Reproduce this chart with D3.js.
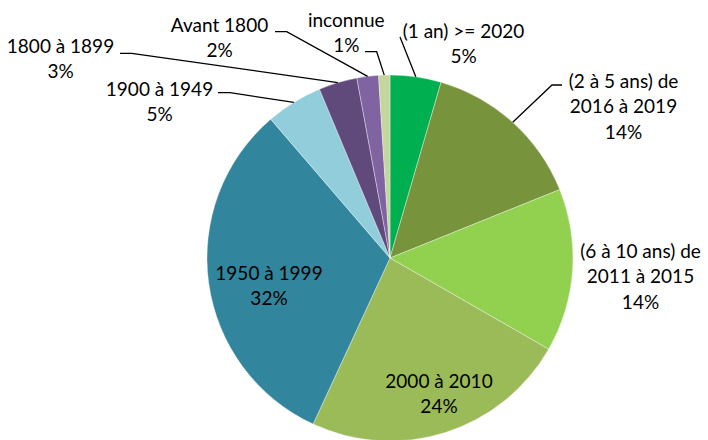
<!DOCTYPE html>
<html>
<head>
<meta charset="utf-8">
<script src="https://cdn.jsdelivr.net/npm/d3@7"></script>
<style>
  html, body { margin: 0; padding: 0; background: #fff; }
  svg { display: block; }
  text { font-family: Lato, "Open Sans", sans-serif; font-size: 19px; fill: #000; }
</style>
</head>
<body>
<svg id="chart" width="708" height="440"></svg>
<script>
// ---- data ----
const categories = [
  ["(1 an) >= 2020"],
  ["(2 à 5 ans) de", "2016 à 2019"],
  ["(6 à 10 ans) de", "2011 à 2015"],
  ["2000 à 2010"],
  ["1950 à 1999"],
  ["1900 à 1949"],
  ["1800 à 1899"],
  ["Avant 1800"],
  ["inconnue"]
];
const values = [4.5, 14.4, 14.4, 23.6, 31.8, 5.0, 3.4, 1.9, 1.0];
const pctLabels = ["5%", "14%", "14%", "24%", "32%", "5%", "3%", "2%", "1%"];
const colors = ["#00B050", "#77933C", "#92D050", "#9BBB59", "#31859C", "#92CDDC", "#604A7B", "#8064A2", "#C3D69B"];

// ---- layout (label anchors: centre x, first baseline y; leader start + elbow) ----
const cx = 390, cy = 258, radius = 183, lineGap = 25.5;
const labelLayout = [
  { x: 463.5, y: 37.5, leader: [[400, 37]] },
  { x: 623.5, y: 87.5, leader: [[562, 85], [552, 85]] },
  { x: 640.5, y: 257.5, leader: null },
  { x: 439,   y: 387.5, leader: null },
  { x: 269,   y: 279.5, leader: null },
  { x: 159.5, y: 95.5, leader: [[218, 92.7], [230, 92.7]] },
  { x: 60.5,  y: 52.7, leader: [[120, 53.3], [131.7, 53.3]] },
  { x: 219.5, y: 31.7, leader: [[275, 31.7], [286.7, 31.7]] },
  { x: 346.3, y: 26.7, leader: [[365, 51.7], [376.7, 51.7]] }
];

const svg = d3.select("#chart");
const g = svg.append("g").attr("transform", `translate(${cx},${cy})`);

const pie = d3.pie().sort(null).value(d => d)(values);
const arc = d3.arc().innerRadius(0).outerRadius(radius);
const edge = d3.arc().innerRadius(radius).outerRadius(radius);

g.selectAll("path.slice")
  .data(pie)
  .join("path")
  .attr("class", "slice")
  .attr("d", arc)
  .attr("fill", (d, i) => colors[i])
  .attr("stroke", "#ffffff")
  .attr("stroke-opacity", 0.6)
  .attr("stroke-width", 0.6);

// leader lines
const line = d3.line();
pie.forEach((d, i) => {
  const L = labelLayout[i];
  if (!L.leader) return;
  const p = edge.centroid(d);
  const pts = L.leader.concat([[p[0] + cx, p[1] + cy]]);
  svg.append("path")
    .attr("d", line(pts))
    .attr("fill", "none")
    .attr("stroke", "#000")
    .attr("stroke-width", 1.3);
});

// labels
pie.forEach((d, i) => {
  const L = labelLayout[i];
  const lines = categories[i].concat([pctLabels[i]]);
  const t = svg.append("text")
    .attr("text-anchor", "middle")
    .attr("x", L.x)
    .attr("y", L.y);
  lines.forEach((s, k) => {
    t.append("tspan")
      .attr("x", L.x)
      .attr("y", L.y + k * lineGap)
      .text(s);
  });
});
</script>
</body>
</html>
